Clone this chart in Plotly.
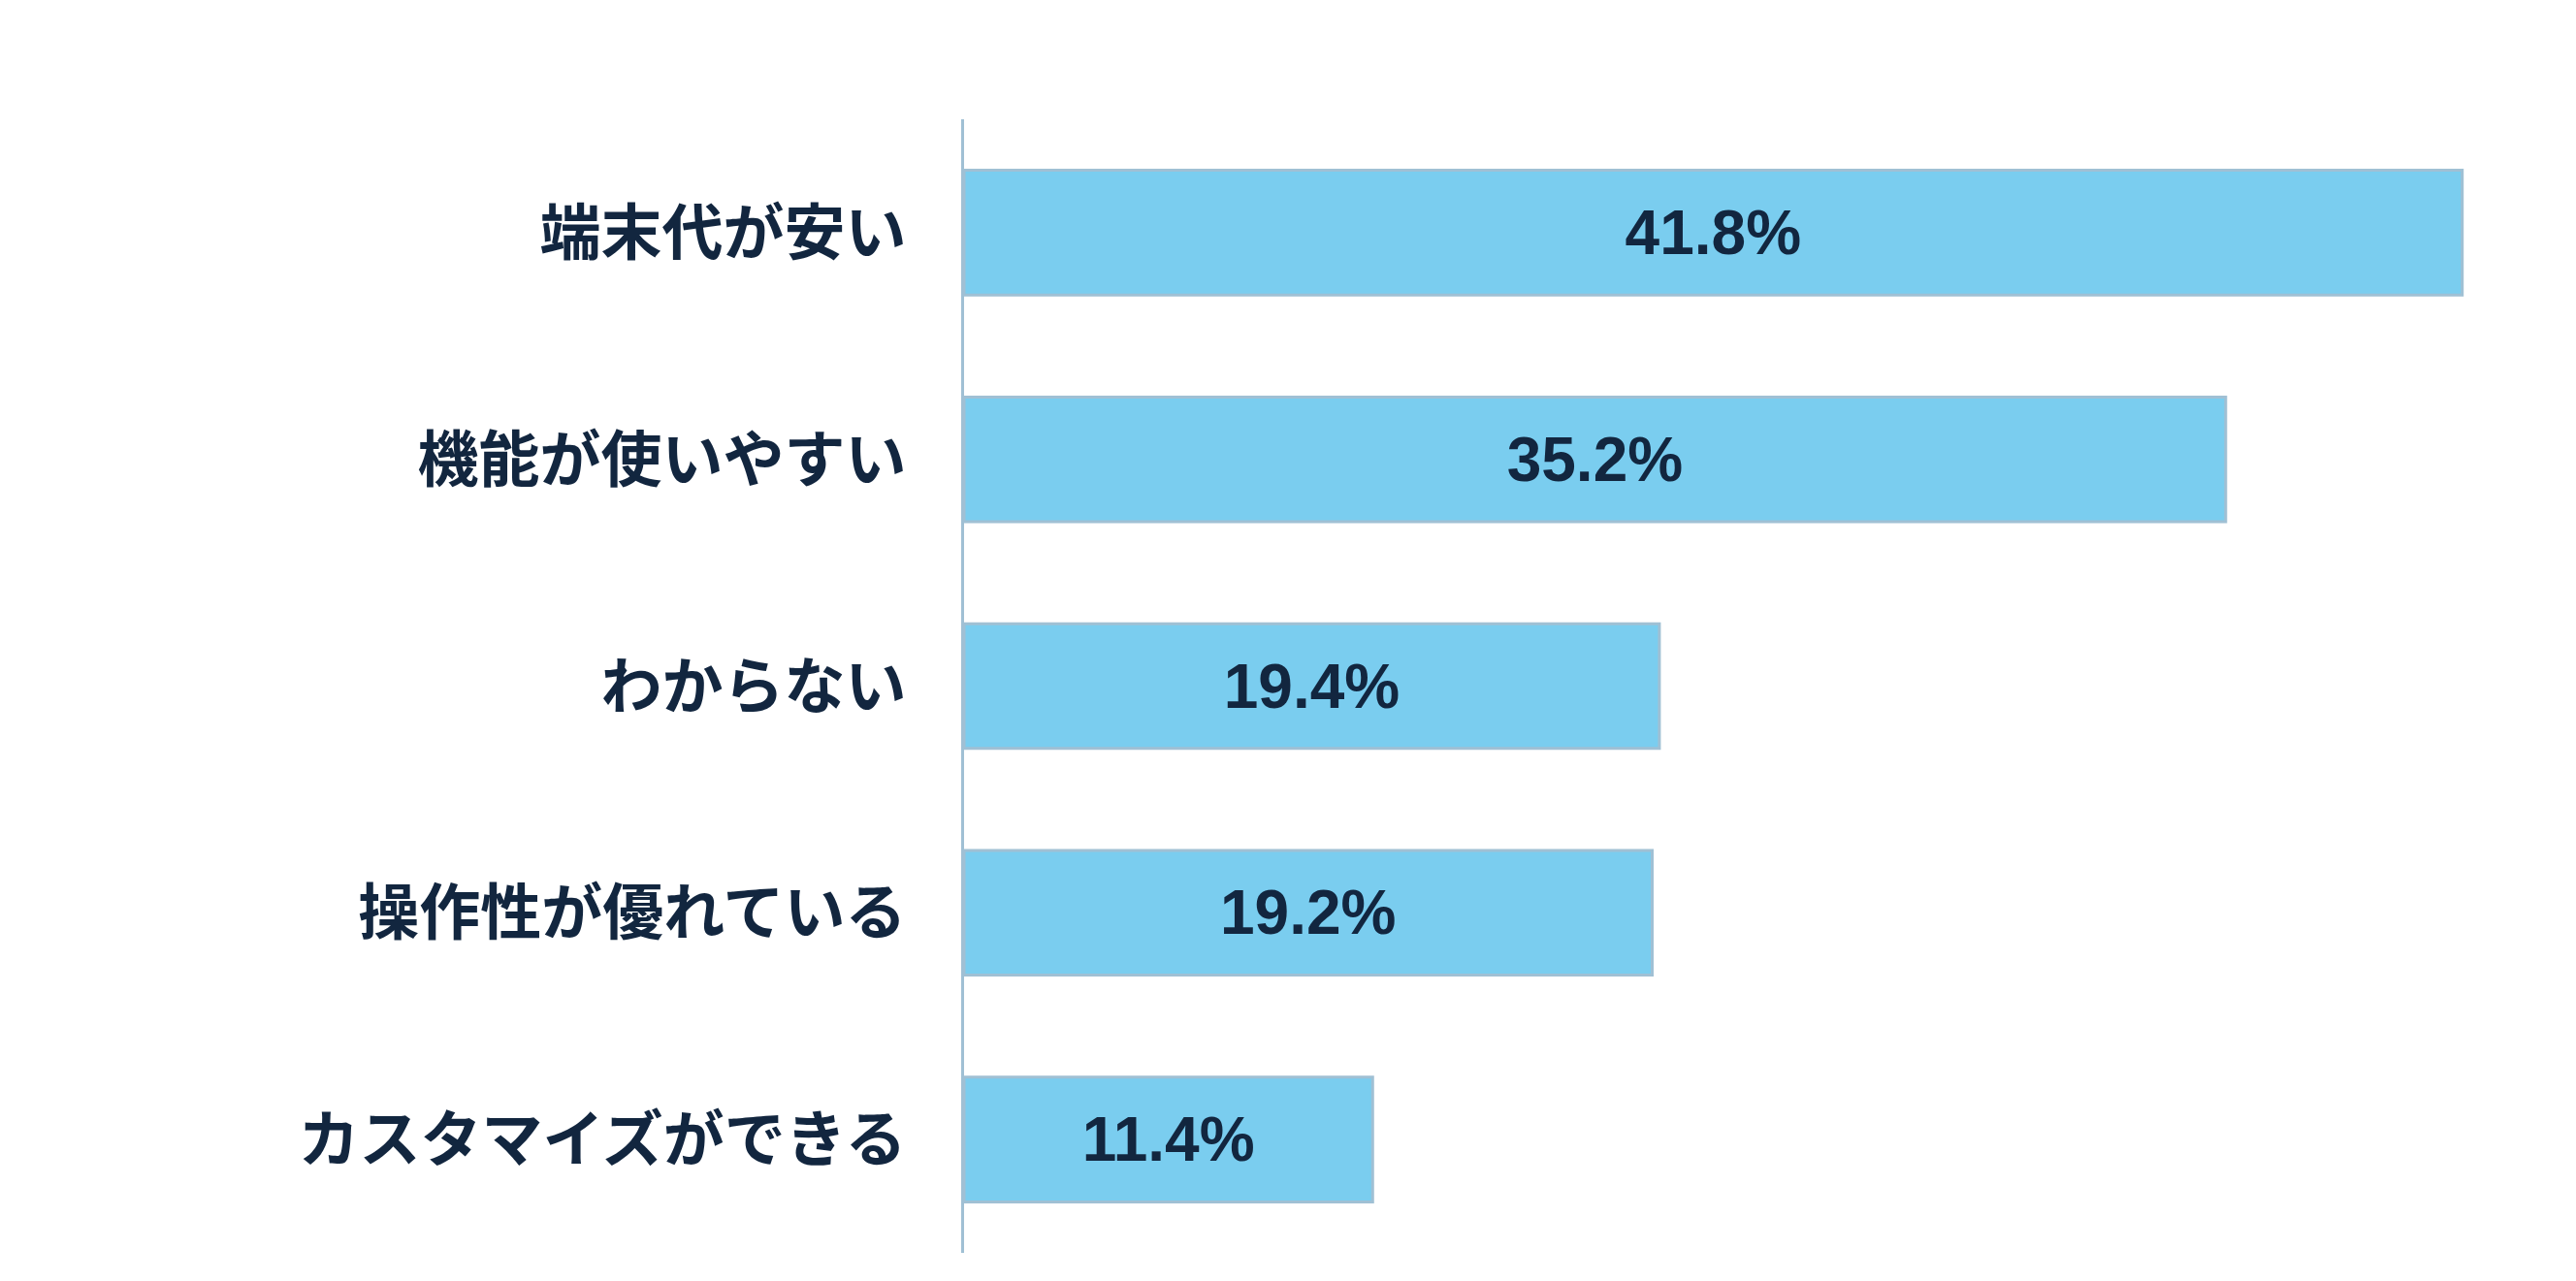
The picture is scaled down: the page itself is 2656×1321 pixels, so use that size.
import plotly.graph_objects as go

# 回答項目と割合(%)
categories = ["端末代が安い", "機能が使いやすい", "わからない", "操作性が優れている", "カスタマイズができる"]
values = [41.8, 35.2, 19.4, 19.2, 11.4]
value_labels = ["41.8%", "35.2%", "19.4%", "19.2%", "11.4%"]

navy = "#12263F"
line_col = "#A0C0D4"

fig = go.Figure(
    go.Bar(
        x=values,
        y=categories,
        orientation="h",
        text=value_labels,
        textposition="inside",
        insidetextanchor="middle",
        textangle=0,
        textfont=dict(family="Liberation Sans, Arial, sans-serif", size=64, color=navy, weight="bold"),
        marker=dict(color="#7ACDEF", line=dict(color=line_col, width=3)),
        hoverinfo="skip",
    )
)

fig.update_layout(
    width=2656,
    height=1321,
    paper_bgcolor="white",
    plot_bgcolor="white",
    showlegend=False,
    bargap=0.45,
    margin=dict(l=986, r=44, t=115, b=37),
    uniformtext=dict(minsize=10, mode="show"),
)

fig.update_xaxes(range=[0, 44], visible=False, fixedrange=True)
fig.update_yaxes(
    autorange="reversed",
    showline=True,
    linecolor=line_col,
    linewidth=3,
    showgrid=False,
    zeroline=False,
    ticks="",
    ticklabelstandoff=44,
    tickfont=dict(family="Noto Sans CJK JP, sans-serif", size=63, color=navy, weight="bold"),
    fixedrange=True,
)

fig.write_html("out.html")
